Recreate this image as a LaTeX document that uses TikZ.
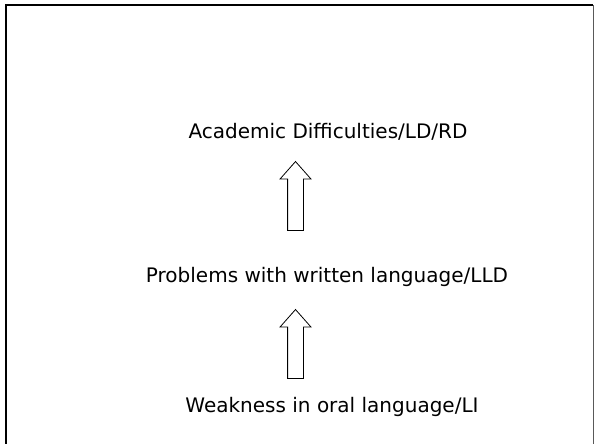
\documentclass[tikz,border=0pt]{standalone}
\usepackage{fontspec}
\setmainfont{DejaVu Sans}
\usetikzlibrary{shapes.arrows}
\tikzset{
  stage/.style={anchor=base,inner sep=0pt},
  uparrow/.style={single arrow,draw=black,fill=white,line width=0.8pt,
                  shape border rotate=90,inner sep=7.5pt,
                  minimum height=69pt,minimum width=30pt,
                  single arrow head extend=7.5pt,single arrow tip angle=83},
  frame/.style={draw=black,line width=1.6pt}
}
\begin{document}
\begin{tikzpicture}[x=1pt,y=-1pt,font=\fontsize{20}{24}\selectfont]
  \useasboundingbox[clip] (0,0) rectangle (594,444);
  \draw[frame] (6,470) |- (593,5);
  \draw[gray!70!black,line width=0.9pt] (593.2,5) -- (593.2,470);

  \node[stage] (ld)   at (328,138) {Academic Difficulties/LD/RD};
  \node[stage] (lld)  at (327,282) {Problems with written language/LLD};
  \node[stage] (weak) at (332,412) {Weakness in oral language/LI};

  \node[uparrow] (up1) at (295.5,200.5) {};
  \node[uparrow] (up2) at (295.5,348.5) {};
\end{tikzpicture}
\end{document}
